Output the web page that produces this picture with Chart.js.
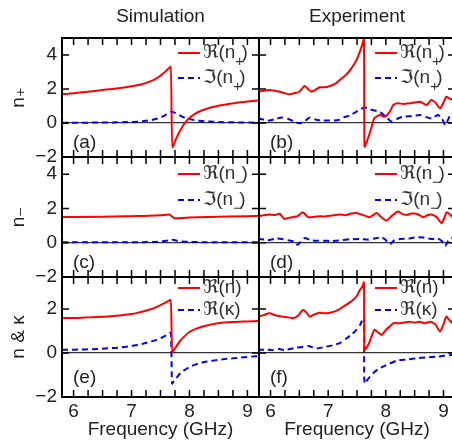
<!DOCTYPE html>
<html>
<head>
<meta charset="utf-8">
<script src="https://cdn.jsdelivr.net/npm/chart.js@4.4.1/dist/chart.umd.min.js"></script>
<style>
  html, body { margin: 0; padding: 0; background: #fff; overflow: hidden; }
  #wrap { position: relative; width: 452px; height: 443px; overflow: hidden; }
  #wrap canvas { position: absolute; left: 0; top: 0; }
</style>
</head>
<body>
<div id="wrap">
  <canvas id="pa" width="460" height="443"></canvas>
  <canvas id="pb" width="460" height="443"></canvas>
  <canvas id="pc" width="460" height="443"></canvas>
  <canvas id="pd" width="460" height="443"></canvas>
  <canvas id="pe" width="460" height="443"></canvas>
  <canvas id="pf" width="460" height="443"></canvas>
</div>
<script>
// tick labels
const xTicks = [6, 7, 8, 9];
const yTicksN = [-2, 0, 2, 4];
const yTicksE = [-2, 0, 2];

// (a) simulation, n+
const simFreqA = [5.8, 6.0, 6.2, 6.4, 6.6, 6.8, 7.0, 7.1, 7.2, 7.3, 7.4, 7.5, 7.55, 7.6, 7.64, 7.68, 7.70, 7.72, 7.76, 7.8, 7.85, 7.9, 7.95, 8.0, 8.1, 8.2, 8.3, 8.4, 8.5, 8.6, 8.8, 9.0, 9.2];
const simReNp = [1.69, 1.75, 1.82, 1.9, 1.98, 2.06, 2.16, 2.22, 2.3, 2.42, 2.57, 2.78, 2.92, 3.07, 3.2, 3.33, -1.42, -1.35, -1.0, -0.7, -0.38, -0.1, 0.12, 0.3, 0.55, 0.72, 0.84, 0.94, 1.02, 1.08, 1.18, 1.26, 1.33];
const simImNp = [0.02, 0.02, 0.02, 0.03, 0.03, 0.04, 0.06, 0.08, 0.11, 0.15, 0.22, 0.32, 0.4, 0.5, 0.58, 0.66, 0.66, 0.64, 0.58, 0.5, 0.42, 0.34, 0.28, 0.23, 0.16, 0.12, 0.09, 0.08, 0.06, 0.05, 0.04, 0.03, 0.03];

// (b) experiment, n+
const expFreqB = [5.78, 5.88, 5.98, 6.08, 6.16, 6.25, 6.33, 6.42, 6.5, 6.59, 6.65, 6.71, 6.78, 6.85, 6.94, 7.03, 7.12, 7.2, 7.27, 7.34, 7.42, 7.49, 7.55, 7.58, 7.62, 7.63, 7.68, 7.72, 7.76, 7.8, 7.85, 7.9, 7.98, 8.07, 8.13, 8.21, 8.3, 8.42, 8.5, 8.59, 8.65, 8.71, 8.79, 8.86, 8.94, 9.0, 9.05, 9.1, 9.16];
const expReNp = [1.84, 1.9, 1.94, 1.9, 1.84, 1.75, 1.69, 1.76, 1.84, 2.18, 2.0, 1.84, 1.95, 2.1, 2.1, 2.18, 2.3, 2.53, 2.72, 2.94, 3.3, 3.7, 4.2, 4.49, 4.92, -1.39, -1.0, -0.6, -0.15, 0.29, 0.4, 0.47, 0.37, 0.67, 1.06, 1.16, 1.12, 1.16, 1.2, 1.25, 1.15, 1.06, 1.35, 1.2, 0.86, 1.2, 1.55, 1.45, 1.35];
const expFreqBi = [5.78, 5.9, 5.98, 6.1, 6.2, 6.3, 6.4, 6.5, 6.6, 6.68, 6.78, 6.9, 7.0, 7.1, 7.2, 7.27, 7.38, 7.49, 7.56, 7.63, 7.7, 7.77, 7.85, 7.93, 8.02, 8.1, 8.2, 8.3, 8.45, 8.59, 8.7, 8.8, 8.9, 8.97, 9.03, 9.08, 9.12, 9.16];
const expImNp = [0.27, 0.18, 0.15, 0.25, 0.33, 0.25, 0.1, -0.02, 0.12, 0.33, 0.2, 0.14, 0.15, 0.14, 0.2, 0.33, 0.45, 0.67, 0.8, 0.92, 0.85, 0.76, 0.7, 0.57, 0.3, 0.08, 0.25, 0.37, 0.4, 0.47, 0.35, 0.27, 0.47, 0.3, -0.12, 0.2, 0.47, 0.4];

// (c) simulation, n-
const simFreqC = [5.8, 6.5, 7.0, 7.3, 7.5, 7.6, 7.65, 7.7, 7.75, 7.8, 8.0, 8.5, 9.0, 9.2];
const simReNm = [1.5, 1.52, 1.55, 1.57, 1.6, 1.63, 1.64, 1.52, 1.42, 1.43, 1.47, 1.51, 1.55, 1.57];
const simImNm = [0.02, 0.02, 0.03, 0.04, 0.07, 0.11, 0.15, 0.18, 0.15, 0.1, 0.05, 0.03, 0.03, 0.03];

// (d) experiment, n-
const expFreqD = [5.78, 5.88, 5.98, 6.08, 6.16, 6.24, 6.31, 6.38, 6.47, 6.56, 6.65, 6.75, 6.85, 6.92, 7.05, 7.2, 7.3, 7.4, 7.49, 7.6, 7.72, 7.84, 7.92, 8.01, 8.1, 8.21, 8.3, 8.36, 8.45, 8.53, 8.6, 8.65, 8.72, 8.79, 8.88, 8.97, 9.06, 9.16];
const expReNm = [1.55, 1.6, 1.65, 1.62, 1.69, 1.39, 1.45, 1.49, 1.55, 1.78, 1.49, 1.5, 1.55, 1.53, 1.58, 1.65, 1.6, 1.7, 1.73, 1.62, 1.49, 1.73, 1.5, 1.29, 1.55, 1.82, 1.65, 1.63, 1.7, 1.69, 1.58, 1.49, 1.6, 1.65, 1.5, 1.14, 1.78, 1.49];
const expFreqDi = [5.78, 5.9, 5.98, 6.1, 6.2, 6.3, 6.4, 6.47, 6.59, 6.7, 6.8, 6.92, 7.05, 7.14, 7.25, 7.38, 7.55, 7.7, 7.8, 7.93, 8.0, 8.07, 8.15, 8.25, 8.4, 8.5, 8.65, 8.79, 8.9, 8.97, 9.03, 9.1, 9.16];
const expImNm = [0.22, 0.18, 0.16, 0.24, 0.22, 0.15, 0.08, -0.12, 0.27, 0.15, 0.12, 0.12, 0.1, 0.12, 0.15, 0.2, 0.22, 0.18, 0.25, 0.31, 0.15, -0.08, 0.15, 0.22, 0.24, 0.31, 0.3, 0.22, 0.25, 0.1, -0.18, 0.2, 0.28];

// (e) simulation, n and kappa
const simFreqE = [5.8, 6.0, 6.2, 6.4, 6.6, 6.8, 7.0, 7.1, 7.2, 7.3, 7.4, 7.5, 7.55, 7.6, 7.64, 7.68, 7.70, 7.72, 7.76, 7.8, 7.85, 7.9, 8.0, 8.1, 8.2, 8.3, 8.4, 8.5, 8.6, 8.8, 9.0, 9.2];
const simReN = [1.58, 1.59, 1.61, 1.63, 1.66, 1.7, 1.77, 1.82, 1.88, 1.96, 2.05, 2.17, 2.24, 2.31, 2.37, 2.42, 0.04, 0.1, 0.24, 0.4, 0.58, 0.72, 0.95, 1.08, 1.18, 1.25, 1.31, 1.35, 1.38, 1.41, 1.43, 1.45];
const simReK = [0.14, 0.15, 0.16, 0.18, 0.21, 0.25, 0.32, 0.36, 0.42, 0.49, 0.57, 0.67, 0.73, 0.8, 0.86, 0.92, -1.4, -1.32, -1.18, -1.05, -0.9, -0.8, -0.64, -0.53, -0.45, -0.39, -0.35, -0.31, -0.28, -0.23, -0.18, -0.14];

// (f) experiment, n and kappa
const expFreqF = [5.78, 5.88, 5.98, 6.1, 6.21, 6.3, 6.39, 6.48, 6.56, 6.62, 6.68, 6.76, 6.85, 6.94, 7.03, 7.15, 7.26, 7.35, 7.43, 7.5, 7.55, 7.59, 7.62, 7.63, 7.68, 7.72, 7.76, 7.8, 7.86, 7.93, 8.01, 8.07, 8.13, 8.25, 8.35, 8.42, 8.5, 8.59, 8.68, 8.77, 8.86, 8.94, 9.0, 9.05, 9.1, 9.16];
const expReN = [1.65, 1.72, 1.8, 1.7, 1.65, 1.62, 1.58, 1.7, 1.95, 1.85, 1.65, 1.75, 1.83, 1.8, 1.83, 1.92, 2.1, 2.25, 2.41, 2.6, 2.86, 3.0, 3.2, 0.14, 0.3, 0.52, 0.8, 1.05, 0.95, 0.82, 1.08, 1.2, 1.35, 1.35, 1.4, 1.42, 1.38, 1.42, 1.35, 1.42, 1.3, 0.97, 1.3, 1.65, 1.5, 1.35];
const expFreqFk = [5.78, 5.9, 6.04, 6.15, 6.25, 6.33, 6.45, 6.56, 6.66, 6.73, 6.8, 6.95, 7.1, 7.2, 7.32, 7.4, 7.49, 7.56, 7.62, 7.63, 7.7, 7.78, 7.86, 7.95, 8.07, 8.19, 8.35, 8.53, 8.7, 8.88, 9.0, 9.16];
const expReK = [0.14, 0.15, 0.14, 0.18, 0.12, 0.18, 0.24, 0.27, 0.32, 0.25, 0.2, 0.28, 0.36, 0.45, 0.67, 0.82, 1.05, 1.3, 1.65, -1.38, -1.15, -0.92, -0.75, -0.62, -0.48, -0.35, -0.3, -0.24, -0.2, -0.17, -0.13, -0.09];

const W = 460, H = 443;
const colLeft = [62, 259], colRight = [259, 455];
const rowTop = [38, 157, 277], rowBottom = [157, 277, 397];
const legendRows = [[15, 40], [17, 43], [11, 33]];
const FONT = "'Liberation Sans', Arimo, 'DejaVu Sans', sans-serif";
const RED = 'rgb(255,0,0)', BLUE = 'rgb(0,0,255)';
const subMap = { '₊': '+', '₋': '−' };

Chart.defaults.font.family = FONT;
Chart.defaults.color = '#222';

const decor = {
  id: 'decor',
  afterDatasetsDraw(chart, args, o) {
    const { ctx, chartArea: a, scales: { x, y } } = chart;
    ctx.save();
    // inward ticks
    ctx.strokeStyle = '#000';
    ctx.lineWidth = 1.5;
    ctx.beginPath();
    for (let v = 6; v <= 9.001; v += 0.25) {
      const px = x.getPixelForValue(v);
      ctx.moveTo(px, a.top); ctx.lineTo(px, a.top + 7);
      ctx.moveTo(px, a.bottom); ctx.lineTo(px, a.bottom - 7);
    }
    y.ticks.forEach(t => {
      const py = y.getPixelForValue(t.value);
      ctx.moveTo(a.left, py); ctx.lineTo(a.left + 7, py);
      ctx.moveTo(a.right, py); ctx.lineTo(a.right - 7, py);
    });
    ctx.stroke();
    ctx.lineWidth = 2;
    ctx.strokeRect(a.left, a.top, a.right - a.left, a.bottom - a.top);

    // legend
    const rows = legendRows[o.row];
    chart.data.datasets.forEach((ds, i) => {
      const ly = a.top + rows[i];
      ctx.strokeStyle = ds.borderColor;
      ctx.lineWidth = 2;
      ctx.setLineDash(ds.borderDash || []);
      ctx.beginPath();
      ctx.moveTo(a.left + 116, ly); ctx.lineTo(a.left + 138, ly);
      ctx.stroke();
      ctx.setLineDash([]);
      ctx.fillStyle = '#333';
      ctx.textBaseline = 'middle';
      ctx.textAlign = 'left';
      let tx = a.left + 141;
      let run = '';
      const flush = () => {
        ctx.font = '19px ' + FONT;
        ctx.fillText(run, tx, ly);
        tx += ctx.measureText(run).width;
        run = '';
      };
      for (const ch of ds.label) {
        if (subMap[ch]) {
          flush();
          ctx.font = '15px ' + FONT;
          ctx.fillText(subMap[ch], tx, ly + 9);
          tx += ctx.measureText(subMap[ch]).width * 0.7;
        } else {
          run += ch;
        }
      }
      flush();
    });

    // panel tag
    ctx.fillStyle = '#222';
    ctx.font = '19px ' + FONT;
    ctx.textAlign = 'left';
    ctx.textBaseline = 'middle';
    ctx.fillText(o.tag, a.left + 11, a.bottom - (o.row === 2 ? 19 : 14));

    // column title
    if (o.title) {
      ctx.textAlign = 'center';
      ctx.fillText(o.title, (a.left + a.right) / 2, 17);
    }
    ctx.restore();
  }
};

function series(label, freq, vals, color, dashed) {
  return { label, freq, vals, color, dashed };
}

const panels = [
  { id: 'pa', row: 0, col: 0, tag: '(a)', title: 'Simulation', yMax: 5, yTicks: yTicksN, yTitle: 'n₊',
    series: [series('ℜ(n₊)', simFreqA, simReNp, RED, false), series('ℑ(n₊)', simFreqA, simImNp, BLUE, true)] },
  { id: 'pb', row: 0, col: 1, tag: '(b)', title: 'Experiment', yMax: 5, yTicks: yTicksN,
    series: [series('ℜ(n₊)', expFreqB, expReNp, RED, false), series('ℑ(n₊)', expFreqBi, expImNp, BLUE, true)] },
  { id: 'pc', row: 1, col: 0, tag: '(c)', yMax: 5, yTicks: yTicksN, yTitle: 'n₋',
    series: [series('ℜ(n₋)', simFreqC, simReNm, RED, false), series('ℑ(n₋)', simFreqC, simImNm, BLUE, true)] },
  { id: 'pd', row: 1, col: 1, tag: '(d)', yMax: 5, yTicks: yTicksN,
    series: [series('ℜ(n₋)', expFreqD, expReNm, RED, false), series('ℑ(n₋)', expFreqDi, expImNm, BLUE, true)] },
  { id: 'pe', row: 2, col: 0, tag: '(e)', yMax: 3.45, yTicks: yTicksE, yTitle: 'n & κ',
    series: [series('ℜ(n)', simFreqE, simReN, RED, false), series('ℜ(κ)', simFreqE, simReK, BLUE, true)] },
  { id: 'pf', row: 2, col: 1, tag: '(f)', yMax: 3.45, yTicks: yTicksE,
    series: [series('ℜ(n)', expFreqF, expReN, RED, false), series('ℜ(κ)', expFreqFk, expReK, BLUE, true)] }
];

panels.forEach(p => {
  const left = colLeft[p.col], right = colRight[p.col];
  const top = rowTop[p.row], bottom = rowBottom[p.row];
  const yW = p.col === 0 ? left : 0;
  const xH = p.row === 2 ? H - bottom : 0;
  const sim = p.col === 0;
  new Chart(document.getElementById(p.id), {
    type: 'line',
    data: {
      datasets: p.series.map(s => ({
        label: s.label,
        data: s.freq.map((f, i) => ({ x: f, y: s.vals[i] })),
        borderColor: s.color,
        borderWidth: 2,
        borderDash: s.dashed ? [6, 4] : [],
        pointRadius: 0,
        fill: false,
        tension: sim ? 0 : 0.2,
        cubicInterpolationMode: sim ? 'monotone' : 'default'
      }))
    },
    options: {
      responsive: false,
      animation: false,
      devicePixelRatio: 1,
      layout: { padding: { left: sim ? 0 : left, right: W - right, top: top, bottom: H - bottom - xH } },
      plugins: {
        legend: { display: false },
        tooltip: { enabled: false },
        decor: { row: p.row, col: p.col, tag: p.tag, title: p.title || '' }
      },
      scales: {
        x: {
          type: 'linear', min: 5.8, max: 9.2,
          afterBuildTicks: s => { s.ticks = xTicks.map(v => ({ value: v })); },
          afterFit: s => { s.height = xH; },
          grid: { display: false, drawTicks: false },
          border: { display: false },
          ticks: { display: p.row === 2, padding: 3, autoSkip: false, maxRotation: 0, font: { size: 19 }, color: '#222' },
          title: { display: p.row === 2, text: 'Frequency (GHz)', font: { size: 19 }, color: '#222', padding: { top: 0, bottom: 2 } }
        },
        y: {
          type: 'linear', min: -2, max: p.yMax,
          afterBuildTicks: s => { s.ticks = p.yTicks.map(v => ({ value: v })); },
          afterFit: s => { s.width = yW; },
          grid: {
            drawTicks: false,
            lineWidth: 1.3,
            color: c => (c.tick && c.tick.value === 0 ? '#333' : 'rgba(0,0,0,0)')
          },
          border: { display: false },
          ticks: {
            display: sim, padding: 5, autoSkip: false, font: { size: 19 }, color: '#222',
            callback: v => (v < 0 ? '−' + Math.abs(v) : String(v))
          },
          title: { display: sim, text: p.yTitle || '', font: { size: 19 }, color: '#222', padding: { top: 7, bottom: 0 } }
        }
      }
    },
    plugins: [decor]
  });
});
</script>
</body>
</html>
